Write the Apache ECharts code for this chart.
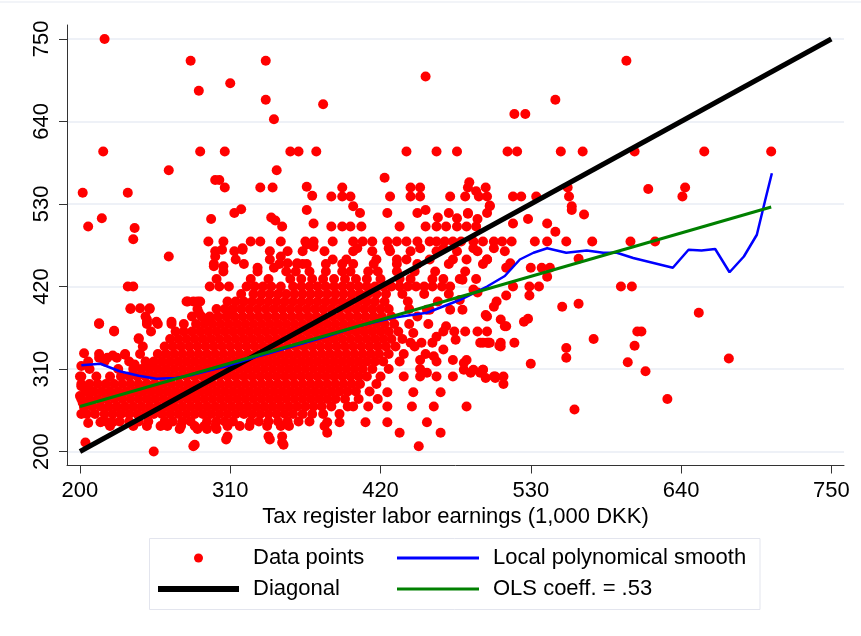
<!DOCTYPE html>
<html><head><meta charset="utf-8">
<script src="https://cdn.jsdelivr.net/npm/echarts@6/dist/echarts.min.js"></script>
<style>html,body{margin:0;padding:0;background:#fff}#c{width:861px;height:636px}</style>
</head><body><div id="c"></div>
<script>
// ---- data ----
const xTicks = [200, 310, 420, 530, 640, 750];
const yTicks = [200, 310, 420, 530, 640, 750];

// dense core of the cloud, one row per reported value: [y, [x...]]
const coreRows = [
 [240, [216,229,236,243,250,262,268,275,281,293,300,306,312,325,331,338,345,352,360,368]],
 [250, [205,211,218,224,230,236,242,248,254,260,266,272,278,284,290,296,302,308,314,320,326,332,338,344,350,356,363,370,378,390]],
 [260, [203,209,215,221,227,233,239,245,251,257,263,269,275,281,287,293,299,305,311,317,323,329,335,341,347,353,359,365,371,377,384,396,411]],
 [270, [201,207,213,219,225,231,237,243,249,255,261,267,273,279,285,291,297,303,309,315,321,327,333,339,345,351,357,363,369,375,381,387,394,404,418]],
 [280, [204,210,216,222,228,234,240,246,252,258,264,270,276,282,288,294,300,306,312,318,324,330,336,342,348,354,360,366,372,378,384,390,396,402,412]],
 [290, [201,207,213,219,225,231,237,243,249,255,261,267,273,279,285,291,297,303,309,315,321,327,333,339,345,351,357,363,369,375,381,387,393,399,405,417]],
 [300, [200,212,222,230,236,242,248,254,260,266,272,278,284,290,296,302,308,314,320,326,332,338,344,350,356,362,368,374,380,386,392,398,404,410,420]],
 [310, [207,228,239,245,251,257,263,269,275,281,287,293,299,305,311,317,323,329,335,341,347,353,359,365,371,377,383,389,395,401,407,414,426,449]],
 [320, [206,218,236,248,254,260,266,272,278,284,290,296,302,308,314,320,326,332,338,344,350,356,362,368,374,380,386,392,398,404,410,416,422,434,461]],
 [330, [214,233,244,257,263,269,275,281,287,293,299,305,311,317,323,329,335,341,347,353,359,365,371,377,383,389,395,401,407,413,419,426,437,453]],
 [340, [246,262,268,274,280,286,292,298,304,310,316,322,328,334,340,346,352,358,364,370,376,382,388,394,400,406,412,418,424,431,445]],
 [350, [243,266,272,278,284,290,296,302,308,314,320,326,332,338,344,350,356,362,368,374,380,386,392,398,404,410,416,422,428,436]],
 [360, [225,252,270,276,282,288,294,300,306,312,318,324,330,336,342,348,354,360,366,372,378,384,390,396,402,408,414,420,426,433]],
 [370, [214,249,257,267,276,285,291,297,303,309,315,321,327,333,339,345,351,357,363,369,375,381,387,393,399,405,411,417,423,430,441,455]],
 [380, [248,282,289,295,301,307,313,319,325,331,337,343,349,355,361,367,373,379,385,391,397,403,409,415,421,428,447]],
 [390, [237,251,286,300,306,312,318,324,330,336,342,348,354,360,366,372,378,384,390,396,402,408,414,420,426,441]],
 [400, [279,286,308,314,320,326,332,338,344,350,356,362,368,374,380,386,392,398,404,410,416,423,440,462]],
 [410, [318,327,333,339,345,351,357,363,369,375,381,387,393,399,405,411,417,424,436,452,470]],
 [420, [235,239,295,302,309,322,328,334,340,347,356,362,368,374,380,386,392,398,404,410,416,422,428,434,440,446,452,458,465,471]],
 [430, [300,325,338,354,362,370,378,386,394,402,410,420,434,442,458,466,478,490]],
 [440, [305,330,351,358,368,380,392,398,411,418,432,445,460,482]],
 [450, [298,320,346,359,366,380,392,400,415,432,447,470,495]],
 [456, [385,395,417,432,439,456,473,483,498]],
 [467, [299,313,339,352,363,379,400,414,427,442,461,476,491,511]],
 [471, [403,426,449,466,488,503]],
 [480, [294,305,325,332,347,365,371,385,400,407,414,425,432,439,447,456,461,467,473,479,488,495,503,509,516,533,542,556,575,603,621]],
 [500, [384,392,398,406,434,453,461,468,476,483,490]],
 [518, [405,447,484,498]],
 [540, [384,392,398,427,442,449,471,482,492,498,517,523,534,558]],
 [552, [306,332,341,392,442,449,484,497,557,643]],
 [600, [217,288,306,354,360,373,439,461,476,513,520,552,568,606,657,706]]
];

// scattered observations outside the core: [x, y]
const sparsePoints = [
 [218,750],[202,545],[206,500],[216,511],[235,545],[240,498],[239,483],[265,575],[281,721],[287,681],
 [299,562],[302,562],[310,691],[319,471],[336,721],[336,669],[342,643],[344,575],[343,508],[348,500],
 [366,553],[370,541],[371,504],[366,476],[371,473],[378,663],[453,700],[518,650],[526,650],[548,669],[600,721],
 [485,559],[500,528],[476,511],[484,517],[491,510],[517,504],[528,510],[542,504],[548,493],
 [560,522],[569,516],[616,550],[641,540],[423,565],[500,527],[560,527],
 [296,510],[313,518],[318,523],[340,512],[366,522],[400,527],[425,518],[453,522],[462,512],[470,518],[490,547],
 [530,445],[538,445],[542,433],[544,445],[565,457],[536,420],[529,420],[517,420],[512,408],[596,420],[604,420],
 [505,400],[503,393],[497,382],[508,376],[511,367],[498,360],[495,345],[499,345],[507,341],[518,345],
 [525,373],[528,377],[529,408],[553,393],[565,397],[576,350],[556,338],[556,325],[530,317],[495,309],
 [497,298],[504,298],[510,290],[562,256],[601,319],[606,341],[608,360],[611,360],[614,307],[630,270],
 [653,385],[675,324],[498,456],[515,451],[512,445],
 [461,353],[468,367],[475,349],[481,318],[486,305],[493,305],[498,380],[504,300],[508,340],[512,367],
 [498,345],[466,336],[459,327],[454,305],[449,322],[444,358],[478,402],[488,416],[471,389],[454,389],
 [265,460],[304,469],[319,469],[299,460],[314,456],[330,445],[339,456],[342,445],[347,460],[352,451],
 [359,451],[363,450],[298,447],[305,447],[278,400],[283,400],[288,400],[287,385],[295,378],[309,386],
 [237,391],[244,391],[251,391],[214,371],[225,361],[249,373],[256,373],[267,373],[243,351],[233,329],
 [214,325],[220,325],[227,325],[203,331],[240,316],[251,316],[224,328],[249,376],
 [201,314],[201,300],[201,287],[200,274],[203,260],[201,250],[206,238],[204,212],[202,265],[205,280],
 [254,200],[283,207],[307,216],[348,212],[339,216],[273,230],[286,230],[293,230],[300,230],
 [215,239],[220,239],[224,239],[222,234],[239,234],[249,234],[259,234],[264,234],[274,234],[284,234],
 [291,234],[299,234],[308,234],[317,234],[324,234],[337,234],[347,234],[353,234],[379,234],
 [308,220],[338,220],[348,220],[284,209],[349,209],[448,207],[381,225],[434,225],[464,225],
 [381,239],[390,239],[409,239],[425,239],[454,239],[400,260],[425,260],[443,260],[459,260],[483,260],
 [425,279],[444,279],[464,279],[437,300],[449,300],[461,300],[473,300],[503,300],[510,300],
 [481,309],[488,309],[495,309],[473,322],[483,322],[442,345],[450,345],[458,345],[493,345],[500,345],
 [508,345],[466,360],[474,360],[482,360],[491,360],[456,389],[480,389],[491,412],[480,429]
];

const smoothLine = [
 [201,315],[215,317],[229,307],[243,301],[256,297],[270,298],[283,302.5],[307,313.6],[332,327.8],
 [356,340.2],[381,353.5],[405,367.8],[429,378.4],[454,385],[478,402],[498,420],[511,434],[522,456],
 [532,465],[542,471],[556,465],[571,468],[583,465],[593,465],[605,458],[634,445],[645.5,469],[655,468],
 [665,470],[675.5,439],[686,460],[695.5,489],[701.6,535],[706.5,571]
];
const olsLine = [[200,260],[706,526]];
const diagonalLine = [[200,200],[750,750]];

const seriesNames = ['Data points', 'Local polynomical smooth', 'Diagonal', 'OLS coeff. = .53'];
const xAxisTitle = 'Tax register labor earnings (1,000 DKK)';

// ---- build ----
const scatterData = [];
coreRows.forEach(r => r[1].forEach(x => scatterData.push([x, r[0]])));
sparsePoints.forEach(p => scatterData.push(p));

const FONT = "'Liberation Sans', Arial, sans-serif";
const chart = echarts.init(document.getElementById('c'), null, {renderer: 'canvas'});

function legendItem(name, icon, left, top, w, h) {
  return {
    data: [{name: name, icon: icon}], left: left, top: top, padding: 0,
    itemWidth: w, itemHeight: h, selectedMode: false,
    itemStyle: {borderWidth: 0},
    textStyle: {fontSize: 22, color: '#000', fontFamily: FONT, lineHeight: 24, padding: [0, 0, 0, 9]}
  };
}

chart.setOption({
  animation: false,
  backgroundColor: '#fff',
  textStyle: {fontFamily: FONT},
  grid: {left: 67, right: 17, top: 25, bottom: 170.5, containLabel: false, outerBoundsMode: 'none'},
  xAxis: {
    type: 'value', min: 190.5, max: 759.3,
    axisLine: {show: true, lineStyle: {color: '#333', width: 1}},
    axisTick: {show: true, customValues: xTicks, length: 8, lineStyle: {color: '#333'}},
    axisLabel: {customValues: xTicks, fontSize: 22, color: '#000', margin: 14, fontFamily: FONT},
    splitLine: {show: false},
    name: xAxisTitle, nameLocation: 'middle', nameGap: 35,
    nameTextStyle: {fontSize: 22, color: '#000', fontFamily: FONT}
  },
  yAxis: {
    type: 'value', min: 181.4, max: 768.6,
    axisLine: {show: true, lineStyle: {color: '#333', width: 1}},
    axisTick: {show: true, customValues: yTicks, length: 8, lineStyle: {color: '#333'}},
    axisLabel: {customValues: yTicks, fontSize: 22, color: '#000', margin: 14, rotate: 90, fontFamily: FONT},
    splitLine: {show: false}
  },
  legend: [
    legendItem(seriesNames[0], 'circle', 194, 546, 81, 9),
    legendItem(seriesNames[1], 'rect', 397, 546, 82, 3),
    legendItem(seriesNames[2], 'rect', 158, 577, 81, 6),
    legendItem(seriesNames[3], 'rect', 397, 577, 82, 3)
  ],
  graphic: [
    {type: 'rect', shape: {x: 149.5, y: 538.5, width: 610.5, height: 71}, style: {fill: 'none', stroke: '#e3e5ee', lineWidth: 1}, silent: true},
    {type: 'line', shape: {x1: 0, y1: 2, x2: 861, y2: 2}, style: {stroke: '#eef0f6', lineWidth: 1.5}, silent: true}
  ],
  series: [
    {
      name: 'gridlines', type: 'line', data: [], z: 0, silent: true,
      markLine: {silent: true, z: 0, symbol: 'none', label: {show: false}, animation: false,
        lineStyle: {color: '#e8edf4', width: 1.5, type: 'solid'},
        emphasis: {disabled: true},
        data: yTicks.map(v => ({yAxis: v}))}
    },
    {
      name: seriesNames[0], type: 'scatter', data: scatterData, z: 2,
      symbol: 'circle', symbolSize: 10, color: '#ff0000',
      itemStyle: {color: '#ff0000', opacity: 1}
    },
    {
      name: seriesNames[1], type: 'line', data: smoothLine, z: 4, color: '#0000ff',
      showSymbol: false, symbol: 'none', smooth: false,
      lineStyle: {color: '#0000ff', width: 2.5}, itemStyle: {color: '#0000ff'}
    },
    {
      name: seriesNames[2], type: 'line', data: diagonalLine, z: 3, color: '#000000',
      showSymbol: false, symbol: 'none',
      lineStyle: {color: '#000000', width: 5}, itemStyle: {color: '#000000'}
    },
    {
      name: seriesNames[3], type: 'line', data: olsLine, z: 5, color: '#008000',
      showSymbol: false, symbol: 'none',
      lineStyle: {color: '#008000', width: 3}, itemStyle: {color: '#008000'}
    }
  ]
});
</script>
</body></html>
